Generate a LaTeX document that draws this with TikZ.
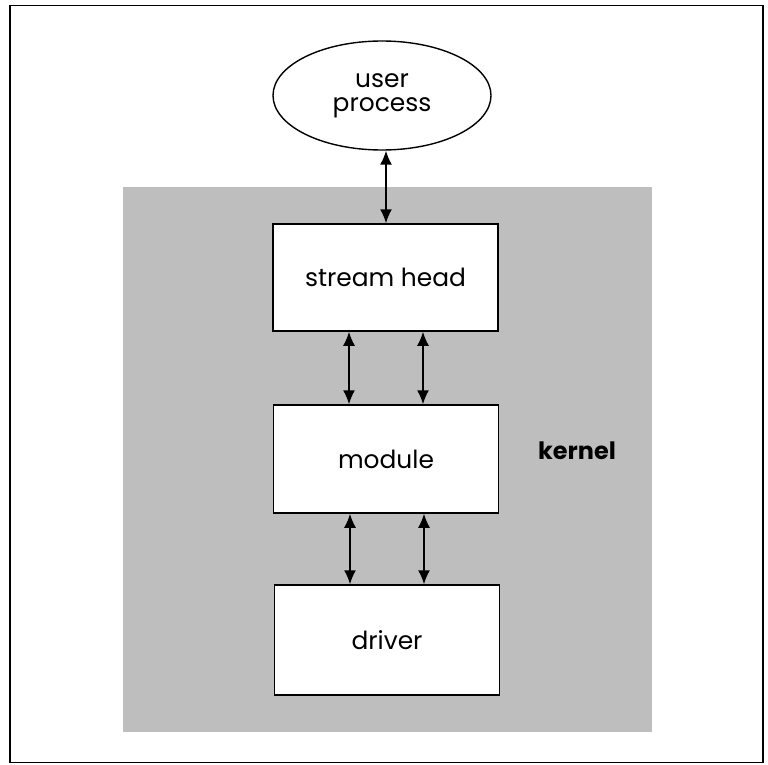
\documentclass[tikz,border=0pt]{standalone}
\usepackage{fontspec}
\setmainfont{Poppins}
\usetikzlibrary{arrows.meta,shapes.geometric}
\definecolor{kgray}{RGB}{190,190,190}
\tikzset{
  box/.style={draw=black,line width=1.5bp,fill=white,minimum width=225bp,inner sep=0pt,font=\fontsize{25}{29}\selectfont},
  link/.style={line width=1.5bp,{Latex[length=14bp,width=12bp]}-{Latex[length=14bp,width=12bp]}}
}
\begin{document}
\begin{tikzpicture}[x=1bp,y=-1bp]
\useasboundingbox (0,0) rectangle (768,765);
\node[draw=black,line width=1.6bp,minimum width=753bp,minimum height=757bp,inner sep=0pt] (frame) at (386.5,384) {};
\node[fill=kgray,minimum width=529bp,minimum height=545bp,inner sep=0pt] (kernelarea) at (387.5,459.5) {};
\node[draw=black,line width=1.4bp,fill=white,ellipse,minimum width=218bp,minimum height=109bp,inner sep=0pt,align=center,font=\fontsize{25}{29}\selectfont] (user) at (382,95.5) {user\\[-5pt]process};
\node[box,minimum height=107bp] (head) at (385.5,277.5) {stream head};
\node[box,minimum height=108bp] (module) at (386,459) {module};
\node[box,minimum height=110bp] (driver) at (387,640) {driver};
\node[font=\fontsize{24}{28}\selectfont\bfseries] (kernel) at (577,451) {kernel};
\draw[link] (user.south -| 386,0) -- (head.north -| 386,0);
\draw[link] (head.south -| 349,0) -- (module.north -| 349,0);
\draw[link] (head.south -| 423,0) -- (module.north -| 423,0);
\draw[link] (module.south -| 350,0) -- (driver.north -| 350,0);
\draw[link] (module.south -| 424,0) -- (driver.north -| 424,0);
\end{tikzpicture}
\end{document}
